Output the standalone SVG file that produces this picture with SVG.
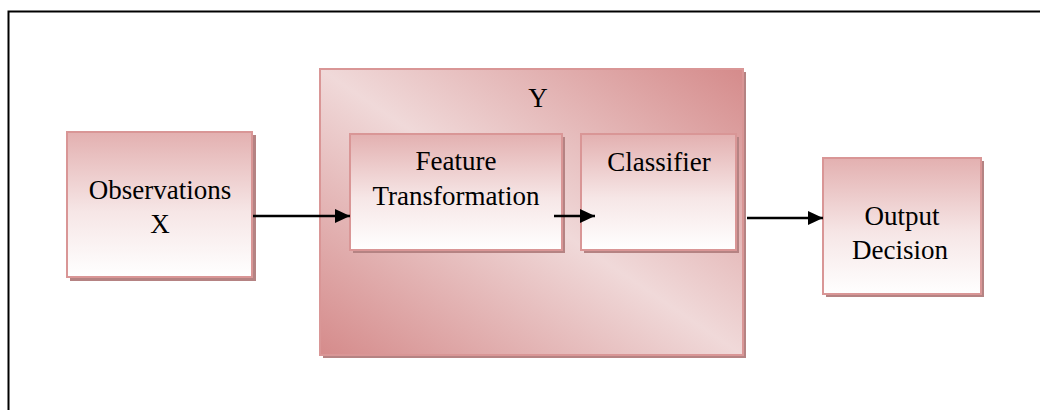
<svg xmlns="http://www.w3.org/2000/svg" width="1040" height="410" viewBox="0 0 1040 410">
  <defs>
    <linearGradient id="boxFill" x1="0" y1="0" x2="0" y2="1">
      <stop offset="0" stop-color="#e3b0b0"/>
      <stop offset="0.55" stop-color="#f6e6e6"/>
      <stop offset="1" stop-color="#ffffff"/>
    </linearGradient>
    <linearGradient id="groupFill" x1="1" y1="0" x2="0" y2="1">
      <stop offset="0" stop-color="#d58b8b"/>
      <stop offset="0.5" stop-color="#f0d9d9"/>
      <stop offset="1" stop-color="#d58b8b"/>
    </linearGradient>
    <marker id="arrow" viewBox="0 0 15 14" refX="15" refY="7" markerWidth="15" markerHeight="14" markerUnits="userSpaceOnUse" orient="auto">
      <path d="M0,0 L15,7 L0,14 Z" fill="#000"/>
    </marker>
  </defs>
  <style>
    .frame { fill: none; stroke: #000; stroke-width: 2; }
    .shadow { fill: #b58383; }
    .box { fill: url(#boxFill); stroke: #d99696; stroke-width: 2; }
    .group { fill: url(#groupFill); stroke: #d99696; stroke-width: 2; }
    .label { font-family: "Liberation Serif", "Times New Roman", serif; font-size: 27px; fill: #000; text-anchor: middle; }
    .conn { stroke: #000; stroke-width: 2.5; fill: none; marker-end: url(#arrow); }
  </style>
  <rect width="1040" height="410" fill="#fff"/>

  <!-- page frame -->
  <path class="frame" d="M8.5,410 V11.5 H1040"/>

  <g id="observations">
    <rect class="shadow" x="70" y="135" width="186" height="146"/>
    <rect class="box" x="67" y="132" width="185" height="145"/>
    <text class="label" x="160" y="199">Observations</text>
    <text class="label" x="160" y="233">X</text>
  </g>

  <g id="group-y">
    <rect class="shadow" x="323" y="72" width="423" height="286"/>
    <rect class="group" x="320" y="69" width="423" height="286"/>
    <text class="label" x="538" y="107">Y</text>
  </g>

  <g id="feature-transformation">
    <rect class="shadow" x="353" y="137" width="212" height="116"/>
    <rect class="box" x="350" y="134" width="212" height="116"/>
    <text class="label" x="456" y="170">Feature</text>
    <text class="label" x="456" y="205">Transformation</text>
  </g>

  <g id="classifier">
    <rect class="shadow" x="584" y="137" width="155" height="116"/>
    <rect class="box" x="581" y="134" width="155" height="116"/>
    <text class="label" x="659" y="171">Classifier</text>
  </g>

  <g id="output-decision">
    <rect class="shadow" x="826" y="161" width="158" height="136"/>
    <rect class="box" x="823" y="158" width="158" height="136"/>
    <text class="label" x="902" y="225">Output</text>
    <text class="label" x="900" y="259">Decision</text>
  </g>

  <g id="connectors">
    <line class="conn" x1="253" y1="216" x2="350" y2="216"/>
    <line class="conn" x1="554" y1="216" x2="595" y2="216"/>
    <line class="conn" x1="747" y1="218" x2="823" y2="218"/>
  </g>
</svg>
